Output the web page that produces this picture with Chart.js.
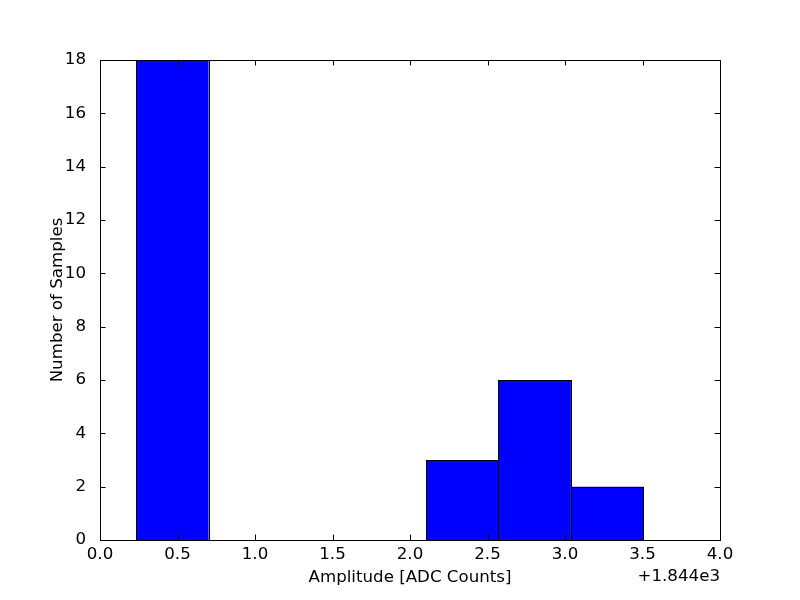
<!DOCTYPE html>
<html>
<head>
<meta charset="utf-8">
<script src="https://cdn.jsdelivr.net/npm/chart.js@4"></script>
<style>
  html, body { margin: 0; padding: 0; background: #fff; }
  #wrap { width: 800px; height: 600px; }
</style>
</head>
<body>
<div id="wrap"><canvas id="hist"></canvas></div>
<script>
// histogram bins (offset from 1844)
const binEdges = [0.233, 0.701, 1.168, 1.636, 2.103, 2.571, 3.038, 3.506];
const counts = [18, 0, 0, 0, 3, 6, 2];
const xTicks = [0, 0.5, 1, 1.5, 2, 2.5, 3, 3.5, 4];
const yTicks = [0, 2, 4, 6, 8, 10, 12, 14, 16, 18];
const offsetLabel = '+1.844e3';

const FONT = 'DejaVu Sans';
const FSIZE = 16.67;

const points = counts.map((c, i) => ({ x: (binEdges[i] + binEdges[i + 1]) / 2, y: c }));

// matplotlib style: centred bar edges, frame, inward ticks on all four sides
const framePlugin = {
  id: 'frame',
  afterDatasetsDraw(chart) {
    const { ctx, chartArea: a, scales } = chart;
    const tl = 5.5;
    ctx.save();
    ctx.strokeStyle = '#000';
    ctx.lineWidth = 1;

    // bar outlines (stroke centred on the bin edges, like matplotlib)
    const meta = chart.getDatasetMeta(0);
    meta.data.forEach((bar, i) => {
      if (!counts[i]) return;
      const p = bar.getProps(['x', 'y', 'base', 'width']);
      const l = Math.round(p.x - p.width / 2) + 0.5;
      const r = Math.round(p.x + p.width / 2) + 0.5;
      const t = Math.round(p.y) + 0.5;
      const b = Math.round(p.base) + 0.5;
      ctx.strokeRect(l, t, r - l, b - t);
    });

    ctx.beginPath();
    scales.x.ticks.forEach(t => {
      const px = Math.round(scales.x.getPixelForValue(t.value)) + 0.5;
      ctx.moveTo(px, a.bottom); ctx.lineTo(px, a.bottom - tl);
      ctx.moveTo(px, a.top); ctx.lineTo(px, a.top + tl);
    });
    scales.y.ticks.forEach(t => {
      const py = Math.round(scales.y.getPixelForValue(t.value)) + 0.5;
      ctx.moveTo(a.left, py); ctx.lineTo(a.left + tl, py);
      ctx.moveTo(a.right, py); ctx.lineTo(a.right - tl, py);
    });
    ctx.stroke();
    ctx.strokeRect(Math.round(a.left) + 0.5, Math.round(a.top) + 0.5,
      Math.round(a.right - a.left), Math.round(a.bottom - a.top));
    ctx.fillStyle = '#000';
    ctx.font = FSIZE + 'px "' + FONT + '"';
    ctx.textAlign = 'right';
    ctx.textBaseline = 'middle';
    ctx.fillText(offsetLabel, a.right, 577);
    ctx.restore();
  }
};

const ctx = document.getElementById('hist').getContext('2d');
const hist = new Chart(ctx, {
  type: 'bar',
  data: {
    datasets: [{
      label: 'Amplitude',
      data: points,
      backgroundColor: '#0000ff',
      borderWidth: 0,
      inflateAmount: 0,
      barPercentage: 1,
      categoryPercentage: 1
    }]
  },
  options: {
    responsive: true,
    maintainAspectRatio: false,
    animation: false,
    layout: { padding: { top: 60, right: 80, left: 0, bottom: 0 } },
    plugins: { legend: { display: false }, tooltip: { enabled: false } },
    scales: {
      x: {
        type: 'linear',
        offset: false,
        min: 0,
        max: 4,
        afterBuildTicks: s => { s.ticks = xTicks.map(v => ({ value: v })); },
        afterFit: s => { s.height = 60; },
        grid: { display: false, offset: false },
        border: { display: false },
        ticks: {
          color: '#000',
          padding: -3,
          maxRotation: 0,
          font: { family: FONT, size: FSIZE },
          callback: v => v.toFixed(1)
        },
        title: {
          display: true,
          text: 'Amplitude [ADC Counts]',
          color: '#000',
          padding: { bottom: 12 },
          font: { family: FONT, size: FSIZE }
        }
      },
      y: {
        min: 0,
        max: 18,
        afterBuildTicks: s => { s.ticks = yTicks.map(v => ({ value: v })); },
        afterFit: s => { s.width = 100; },
        grid: { display: false },
        border: { display: false },
        ticks: {
          color: '#000',
          padding: 6,
          font: { family: FONT, size: FSIZE }
        },
        title: {
          display: true,
          text: 'Number of Samples',
          color: '#000',
          padding: { top: 48 },
          font: { family: FONT, size: FSIZE }
        }
      }
    }
  },
  plugins: [framePlugin]
});
</script>
</body>
</html>
